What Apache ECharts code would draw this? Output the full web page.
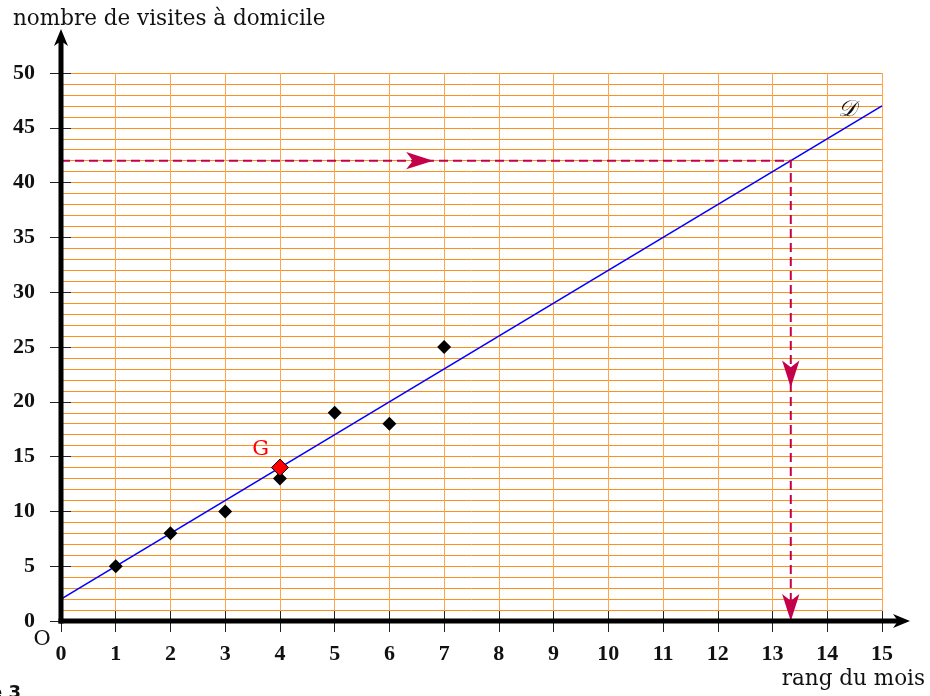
<!DOCTYPE html>
<html>
<head>
<meta charset="utf-8">
<script src="https://cdn.jsdelivr.net/npm/echarts@6/dist/echarts.min.js"></script>
<style>
html,body{margin:0;padding:0;background:#fff;}
#c{width:930px;height:696px;}
</style>
</head>
<body>
<div id="c"></div>
<script>
// ---- data ----
const months = [1, 2, 3, 4, 5, 6, 7];
const visits = [5, 8, 10, 13, 19, 18, 25];
const gPoint = [4, 14];
const lineDX = [0, 15];
const lineDY = [2, 47];
const guideX = 40 / 3;
const guideY = 42;
// arrow tips on the dashed reading lines
const arrowRight = [[6.8, 42]];
const arrowDown = [[40 / 3, 21.3], [40 / 3, 0]];
const xMin = 0, xMax = 15, yMin = 0, yMax = 50;
const yLabelStep = 5;
const labelD = [14.36, 46.6];

const serif = "'DejaVu Serif', serif";
const numFont = "'Liberation Serif', serif";
const chart = echarts.init(document.getElementById('c'), null, {renderer: 'canvas'});

const pts = months.map((m, i) => [m, visits[i]]);
const dLine = lineDX.map((x, i) => [x, lineDY[i]]);
const guide = [[xMin, guideY], [guideX, guideY], [guideX, yMin]];

const baseX = {type: 'value', min: xMin, max: xMax, interval: 1, gridIndex: 0};
const baseY = {type: 'value', min: yMin, max: yMax, gridIndex: 0};
const numLabel = {color: '#111', fontFamily: numFont, fontSize: 22, fontWeight: 'bold'};

chart.setOption({
  backgroundColor: '#fff',
  animation: false,
  grid: {left: 61, right: 48, top: 73, bottom: 75},
  xAxis: [
    Object.assign({}, baseX, {
      axisLine: {show: false},
      axisTick: {show: true, inside: true, length: 10, lineStyle: {color: '#222', width: 1}},
      axisLabel: {show: false},
      splitLine: {show: true, lineStyle: {color: '#ffa64a', width: 1}}
    }),
    Object.assign({}, baseX, {
      position: 'bottom',
      axisLine: {show: false},
      axisTick: {show: true, inside: false, length: 11, lineStyle: {color: '#222', width: 1}},
      axisLabel: Object.assign({show: true, margin: 22}, numLabel),
      splitLine: {show: false}
    })
  ],
  yAxis: [
    Object.assign({}, baseY, {
      interval: 1,
      axisLine: {show: false},
      axisTick: {show: false},
      axisLabel: {show: false},
      splitLine: {show: true, lineStyle: {color: '#ff8f1c', width: 1}}
    }),
    Object.assign({}, baseY, {
      interval: yLabelStep,
      position: 'left',
      axisLine: {show: false},
      axisTick: {show: true, inside: false, length: 11, lineStyle: {color: '#222', width: 1}},
      axisLabel: Object.assign({show: true, margin: 26}, numLabel),
      splitLine: {show: false}
    }),
    Object.assign({}, baseY, {
      interval: yLabelStep,
      position: 'left',
      axisLine: {show: false},
      axisTick: {show: true, inside: true, length: 10, lineStyle: {color: '#222', width: 1}},
      axisLabel: {show: false},
      splitLine: {show: false}
    })
  ],
  series: [
    {
      type: 'line', data: dLine, xAxisIndex: 0, yAxisIndex: 0,
      symbol: 'none', lineStyle: {color: '#0000ff', width: 1.6}, z: 3
    },
    {
      type: 'line', data: guide, xAxisIndex: 0, yAxisIndex: 0,
      symbol: 'none', lineStyle: {color: '#c4004a', width: 2, type: [9, 5]}, z: 3
    },
    {
      type: 'scatter', data: arrowRight, xAxisIndex: 0, yAxisIndex: 0,
      symbol: 'arrow', symbolSize: [13, 27], symbolRotate: -90,
      itemStyle: {color: '#c4004a', opacity: 1}, z: 4
    },
    {
      type: 'scatter', data: arrowDown, xAxisIndex: 0, yAxisIndex: 0,
      symbol: 'arrow', symbolSize: [13, 27], symbolRotate: 180,
      itemStyle: {color: '#c4004a', opacity: 1}, z: 4
    },
    {
      type: 'scatter', data: pts, xAxisIndex: 0, yAxisIndex: 0,
      symbol: 'diamond', symbolSize: 14,
      itemStyle: {color: '#000', opacity: 1}, z: 5
    },
    {
      type: 'scatter', data: [gPoint], xAxisIndex: 0, yAxisIndex: 0,
      symbol: 'diamond', symbolSize: 17,
      itemStyle: {color: '#ff0000', borderColor: '#000', borderWidth: 1, opacity: 1}, z: 6,
      label: {show: true, formatter: 'G', position: 'left', distance: 2, offset: [0, -18],
              color: '#ff0000', fontFamily: serif, fontSize: 21}
    }
  ]
});

// decorations: axes with arrows, axis titles
const o = chart.convertToPixel({gridIndex: 0}, [xMin, yMin]);
const xe = chart.convertToPixel({gridIndex: 0}, [xMax, yMin]);
const ye = chart.convertToPixel({gridIndex: 0}, [xMin, yMax]);
const dPos = chart.convertToPixel({gridIndex: 0}, labelD);
const xTip = xe[0] + 28, yTip = ye[1] - 44;

chart.setOption({
  graphic: [
    {type: 'line', shape: {x1: o[0] - 2.5, y1: o[1], x2: xTip - 10, y2: o[1]}, style: {stroke: '#000', lineWidth: 5}, z: 10},
    {type: 'line', shape: {x1: o[0], y1: o[1] + 2.5, x2: o[0], y2: yTip + 10}, style: {stroke: '#000', lineWidth: 5}, z: 10},
    {type: 'polygon', shape: {points: [[xTip, o[1]], [xTip - 17, o[1] - 7], [xTip - 12, o[1]], [xTip - 17, o[1] + 7]]}, style: {fill: '#000'}, z: 10},
    {type: 'polygon', shape: {points: [[o[0], yTip], [o[0] - 7, yTip + 17], [o[0], yTip + 12], [o[0] + 7, yTip + 17]]}, style: {fill: '#000'}, z: 10},
    {type: 'text', x: 13, y: 19, style: {text: 'nombre de visites à domicile', font: "21.5px 'DejaVu Serif', serif", fill: '#111', textVerticalAlign: 'middle'}, z: 10},
    {type: 'text', x: 925, y: 679, style: {text: 'rang du mois', font: "21.5px 'DejaVu Serif', serif", fill: '#111', textAlign: 'right', textVerticalAlign: 'middle'}, z: 10},
    {type: 'text', x: 42, y: 640, style: {text: 'O', font: "21px 'DejaVu Serif', serif", fill: '#111', textAlign: 'center', textVerticalAlign: 'middle'}, z: 10},
    {type: 'text', x: dPos[0], y: dPos[1], style: {text: '𝒟', font: "italic 23px 'DejaVu Serif', serif", fill: '#111', textAlign: 'center', textVerticalAlign: 'middle'}, z: 10},
    {type: 'text', x: 21, y: 684, style: {text: 'e 3', font: "bold 18px 'DejaVu Sans', sans-serif", fill: '#111', textAlign: 'right', textVerticalAlign: 'top'}, z: 10}
  ]
});
</script>
</body>
</html>
